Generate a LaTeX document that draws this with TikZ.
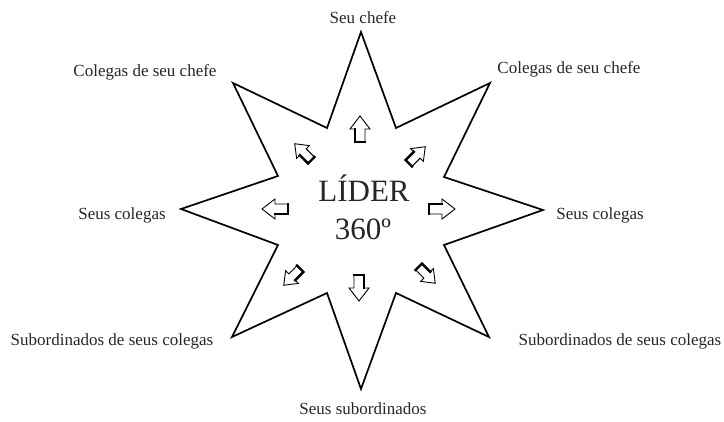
\documentclass[tikz,border=0pt]{standalone}
\usepackage{fontspec}
\setmainfont{Liberation Serif}
\begin{document}
\begin{tikzpicture}[x=1pt,y=1pt,
  lbl/.style={anchor=base, inner sep=0pt, text=black!85, font=\fontsize{17}{19}\selectfont},
  big/.style={anchor=base, inner sep=0pt, text=black!85, font=\fontsize{31}{33}\selectfont},
  starline/.style={line width=1.7pt, line join=miter},
  barrow/.pic={
    \draw[line width=0.9pt, fill=white, line join=miter]
      (-13,-5) -- (0,-5) -- (0,-10) -- (13,0) -- (0,10) -- (0,5) -- (-13,5) -- cycle;
    \draw[line width=2.4pt, line cap=rect] (0,5) -- (-13,5) -- (-13,-5);
  }]
\useasboundingbox (0,0) rectangle (724,421);
% star vertices
\coordinate (T) at (361,389);
\coordinate (i1) at (396,293);
\coordinate (UR) at (490,338);
\coordinate (i2) at (444,244);
\coordinate (R) at (543,211);
\coordinate (i3) at (444,176);
\coordinate (LR) at (489,84);
\coordinate (i4) at (396,128);
\coordinate (B) at (361,32);
\coordinate (i5) at (327,128);
\coordinate (LL) at (232,84);
\coordinate (i6) at (278,176);
\coordinate (L) at (181,212);
\coordinate (i7) at (278,245);
\coordinate (UL) at (233,338);
\coordinate (i8) at (327,293);
\draw[starline] (T) -- (i1) -- (UR) -- (i2) -- (R) -- (i3) -- (LR) -- (i4) -- (B)
  -- (i5) -- (LL) -- (i6) -- (L) -- (i7) -- (UL) -- (i8) -- cycle;
% arrows
\pic[rotate=90] at (360,292) {barrow};
\pic[rotate=45, scale=0.9] at (417,266) {barrow};
\pic[rotate=0] at (442,212) {barrow};
\pic[rotate=-45, scale=0.9] at (427,146) {barrow};
\pic[rotate=-90] at (359,133) {barrow};
\pic[rotate=-135, scale=0.9] at (292,144) {barrow};
\pic[rotate=180] at (275,212) {barrow};
\pic[rotate=135, scale=0.9] at (303,269) {barrow};
% labels
\node[lbl] (chefe) at (363,397) {Seu chefe};
\node[lbl] (colUL) at (145,344) {Colegas de seu chefe};
\node[lbl] (colUR) at (569,347) {Colegas de seu chefe};
\node[lbl] (segR) at (600,201) {Seus colegas};
\node[lbl] (segL) at (122,201) {Seus colegas};
\node[lbl] (subL) at (112,75) {Subordinados de seus colegas};
\node[lbl] (subR) at (620,75) {Subordinados de seus colegas};
\node[lbl] (subs) at (363,6) {Seus subordinados};
\node[big] (lider) at (364,219) {LÍDER};
\node[big] (grau) at (363,181) {360º};
\end{tikzpicture}
\end{document}
